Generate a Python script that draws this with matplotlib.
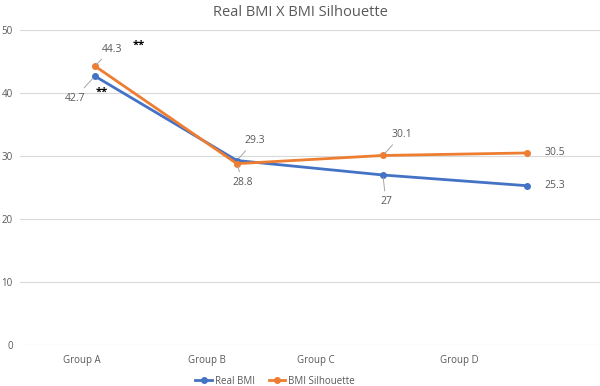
import matplotlib.pyplot as plt

plt.rcParams['font.family'] = ['Open Sans', 'DejaVu Sans']

# data
groups = ['Group A', 'Group B', 'Group C', 'Group D']
real_bmi = [42.7, 29.3, 27.0, 25.3]
bmi_silhouette = [44.3, 28.8, 30.1, 30.5]

# horizontal placement (points and category labels are not aligned in the original)
point_x = [75, 217, 363, 507]
label_x = [62, 187, 296, 439]

blue = '#4472C4'
orange = '#ED7D31'
grey = '#595959'

fig = plt.figure(figsize=(6, 3.86), dpi=100)
ax = fig.add_axes([0.033, 0.106, 0.967, 0.816])

ax.plot(point_x, real_bmi, color=blue, lw=2, marker='o', ms=4, label='Real BMI', zorder=3)
ax.plot(point_x, bmi_silhouette, color=orange, lw=2, marker='o', ms=4, label='BMI Silhouette', zorder=3)

ax.set_xlim(0, 580)
ax.set_ylim(0, 50)
ax.set_yticks(range(0, 51, 10))
ax.set_xticks(label_x)
ax.set_xticklabels(groups)
ax.tick_params(length=0, labelsize=7, colors=grey)
ax.tick_params(axis='y', pad=5)
ax.tick_params(axis='x', pad=7)
ax.grid(axis='y', color='#D9D9D9', lw=0.8)
ax.set_axisbelow(True)
for s in ax.spines.values():
    s.set_visible(False)

ax.set_title('Real BMI X BMI Silhouette', fontsize=10.5, color=grey, pad=10, x=0.483)

# data labels: (series x, value, offset in pixels, draw leader)
lead = dict(arrowstyle='-', color='#A6A6A6', lw=0.7, shrinkA=2, shrinkB=2)
labels = [
    (point_x[0], real_bmi[0], (-20, -22), True),
    (point_x[0], bmi_silhouette[0], (17, 17), True),
    (point_x[1], real_bmi[1], (18, 20), True),
    (point_x[1], bmi_silhouette[1], (6, -19), True),
    (point_x[2], bmi_silhouette[2], (19, 21), True),
    (point_x[2], real_bmi[2], (3, -27), True),
    (point_x[3], bmi_silhouette[3], (28, 0), False),
    (point_x[3], real_bmi[3], (28, 0), False),
]
for x, v, off, leader in labels:
    txt = f'{v:g}'
    ax.annotate(txt, (x, v), xytext=off, textcoords='offset pixels',
                ha='center', va='center', fontsize=7.5, color=grey,
                arrowprops=lead if leader else None)

# significance marks
ax.annotate('**', (point_x[0], real_bmi[0]), xytext=(7, -16), textcoords='offset pixels',
            ha='center', va='center', fontsize=8, fontweight='bold', color='black')
ax.annotate('**', (point_x[0], bmi_silhouette[0]), xytext=(44, 21), textcoords='offset pixels',
            ha='center', va='center', fontsize=8, fontweight='bold', color='black')

ax.legend(loc='center', bbox_to_anchor=(0.44, -0.115), ncol=2, frameon=False,
          fontsize=7, labelcolor=grey, handlelength=1.7, columnspacing=1.4,
          handletextpad=0.3, borderpad=0.2)

fig.savefig('out.png', dpi=100)
